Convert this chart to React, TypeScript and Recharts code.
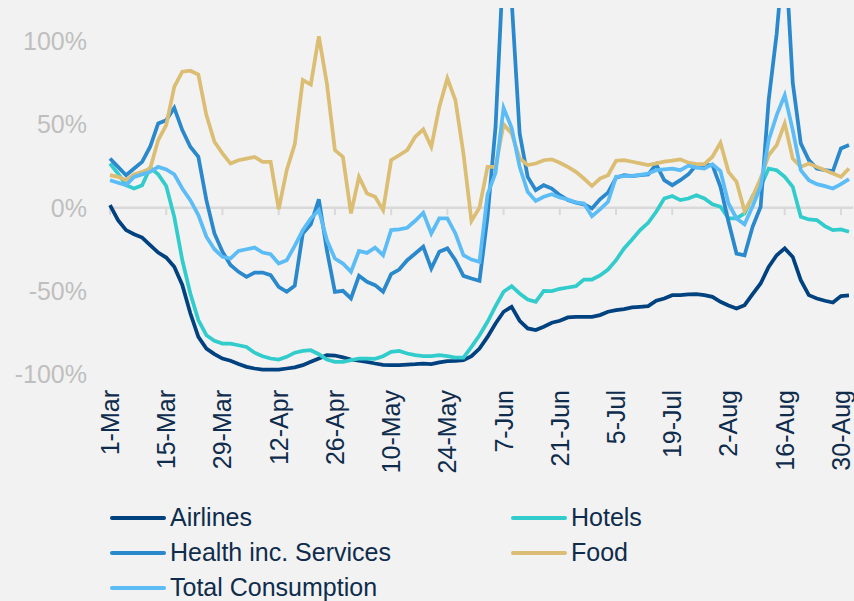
import { LineChart, Line, XAxis, YAxis, ReferenceLine } from 'recharts';

const FONT = 'Arial, "Liberation Sans", sans-serif';

// day index from 1-Mar, every 2nd day
const days = Array.from({ length: 93 }, (_, i) => i * 2);

const tickDays = [0, 14, 28, 42, 56, 70, 84, 98, 112, 126, 140, 154, 168, 182];
const tickLabels = [
  '1-Mar', '15-Mar', '29-Mar', '12-Apr', '26-Apr', '10-May', '24-May',
  '7-Jun', '21-Jun', '5-Jul', '19-Jul', '2-Aug', '16-Aug', '30-Aug',
];
const yTicks = [-100, -50, 0, 50, 100];

const airlines = [
  1.5, -7.5, -13.5, -16, -18, -22.5, -27, -30, -35.5, -46.5, -63.5, -77.7, -84.7, -88, -90.7, -92,
  -94, -95.7, -96.7, -97.3, -97.3, -97.3, -96.7, -96, -94.7, -92.7, -90.7, -88.7, -88.9, -90, -91.3,
  -92, -92.7, -93.7, -94.5, -94.7, -94.7, -94.3, -94.1, -93.7, -94.1, -93, -92.3, -92.1, -91.7,
  -89.3, -84.7, -77.7, -69.6, -62.6, -59.6, -68, -72.6, -73.6, -71.6, -69.2, -68, -66, -65.6, -65.6,
  -65.6, -64.6, -62.6, -61.6, -61, -60, -59.6, -59.2, -56, -54.6, -52.6, -52.6, -52.2, -52, -52.6,
  -53.6, -56.6, -58.8, -60.6, -58.6, -52, -45.6, -35.6, -28.6, -24.5, -29.6, -43.6, -52.6, -54.6,
  -56, -57, -53.2, -52.8,
];

const hotels = [
  26.5, 20.5, 13.5, 11.5, 13.5, 24, 20, 13, -5.5, -31.5, -51.6, -67.6, -76.7, -80, -81.7, -81.7,
  -82.7, -83.7, -87.2, -89.3, -90.7, -91.3, -89.7, -87.2, -86.1, -85.7, -88.1, -91.3, -92.7, -92.7,
  -91.7, -90.7, -90.7, -90.9, -89.3, -86.7, -86.1, -87.7, -88.7, -89.3, -89.3, -88.7, -89.3, -90.1,
  -90.1, -83.7, -76.7, -68.6, -59.2, -50.6, -47.2, -51.6, -55.2, -56.6, -50, -50.2, -48.8, -48,
  -47.2, -43.2, -43.2, -40.8, -37.2, -31.6, -24.5, -19.1, -13.5, -9.1, -2.5, 5.5, 7, 4.5, 5.5, 7.5,
  5.5, 2, 0.5, -6.5, -6.5, -3.5, 7, 12.5, 23.5, 22.5, 18.5, 12.5, -5.5, -7.1, -7.5, -11.1, -13.5,
  -13.1, -14.5,
];

const health = [
  29.5, 24.5, 19.5, 23.5, 27.5, 36.6, 50.6, 52.6, 60, 46.6, 36.6, 30.5, 4.5, -15.5, -26.5, -34.5,
  -38.6, -41.6, -39, -39, -40.6, -47.6, -50.6, -47, -15.5, -10, 5, -25.6, -50.6, -50, -54.6, -41,
  -44.6, -46.6, -50.6, -40, -37.2, -31.6, -27.6, -23.5, -36.6, -26.5, -24.5, -31.6, -41, -42.6, -44,
  -5.5, 48.6, 150, 125, 44.6, 18.5, 10.5, 13.5, 11.5, 7.5, 4.5, 3, 2, -0.5, 5, 9, 18, 19.5, 19,
  19.5, 20, 26, 16.5, 13.5, 16.5, 20, 25.6, 25.6, 25.6, 12.5, -8.5, -27.6, -28.6, -11.5, 0.5, 64.6,
  104.7, 160, 75, 38.6, 28.6, 23.5, 22.5, 22, 35.6, 37.6,
];

const food = [
  19.5, 18.5, 16.5, 20, 21.5, 23.5, 40.6, 49.6, 72.6, 81.7, 82.3, 80, 55.6, 39.6, 32.6, 26.5, 28.5,
  29.5, 30.5, 27.5, 27.5, -1, 22.5, 38, 76.7, 74, 103, 74.6, 34.6, 30.5, -3.5, 18.5, 8.5, 6.5, -1.5,
  28.5, 31.5, 34.6, 42.6, 47, 36.6, 60.6, 77.7, 64.6, 32.6, -8, 0, 24.5, 24.5, 50, 44.6, 29.6, 25.6,
  26.5, 28.5, 29, 27, 24.5, 21.5, 17.5, 13, 17.5, 19.5, 28.2, 28.5, 27.6, 26.6, 25.6, 26.6, 27.7,
  28.2, 29, 27, 26.2, 26.2, 30.6, 39, 21.5, 15.5, -2, 6.5, 17.5, 31.5, 37.6, 50.6, 29.5, 24.5, 26.5,
  24.5, 22.5, 20.5, 18.5, 23.5,
];

const total = [
  16.5, 15, 13.5, 18.5, 20, 21.5, 24.5, 23, 20, 11.5, 4.5, -4.5, -17.5, -25, -29.6, -30.6, -26, -25,
  -24, -27, -28, -33.6, -31.6, -23, -13.5, -6.5, -1.5, -19.5, -30.6, -33.6, -38.6, -26, -27.2, -24,
  -28.6, -13.5, -13.1, -12.1, -7.9, -3.1, -15.5, -6.5, -6.5, -15.5, -28.6, -31.2, -32.6, 8, 21, 60,
  48, 24.5, 9.5, 4, 6.5, 8.1, 6.1, 4.9, 3.1, 2.5, -5.1, -1.1, 3.5, 18.5, 18.9, 19.1, 19.7, 20.5,
  22.5, 23, 23.5, 22.5, 25.2, 24.1, 23.5, 26.1, 22, 2.5, -6.5, -10, 0.9, 12.5, 40.6, 55.6, 67.6,
  46.6, 22.5, 16.5, 14.1, 12.9, 11.5, 14.1, 17.1,
];

const series = [
  { key: 'airlines', name: 'Airlines', color: '#00427f', values: airlines },
  { key: 'hotels', name: 'Hotels', color: '#33cccc', values: hotels },
  { key: 'health', name: 'Health inc. Services', color: '#2a88cc', values: health },
  { key: 'food', name: 'Food', color: '#dbbe74', values: food },
  { key: 'total', name: 'Total Consumption', color: '#5bbcf6', values: total },
];

const rows = days.map((day, i) => {
  const row: Record<string, number> = { day };
  series.forEach((s) => {
    row[s.key] = s.values[i];
  });
  return row;
});

const DateTick = (props: any) => {
  const { x, y, payload } = props;
  const label = tickLabels[tickDays.indexOf(payload.value)];
  return (
    <text
      x={x}
      y={y}
      transform={`rotate(-90 ${x} ${y})`}
      textAnchor="end"
      dy="0.36em"
      fill="#0f2c4c"
      fontSize={25}
      fontFamily={FONT}
    >
      {label}
    </text>
  );
};

export default function App() {
  return (
    <div
      style={{
        position: 'fixed',
        inset: 0,
        background: '#f2f2f2',
        overflow: 'hidden',
        fontFamily: FONT,
      }}
    >
      <LineChart
        width={854}
        height={500}
        data={rows}
        margin={{ top: 8, right: 1, left: 0, bottom: 0 }}
      >
        <XAxis
          type="number"
          dataKey="day"
          domain={[0, 185]}
          ticks={tickDays}
          interval={0}
          axisLine={false}
          tickLine={false}
          tickSize={0}
          tickMargin={16}
          height={126}
          tick={<DateTick />}
        />
        <YAxis
          domain={[-100, 120]}
          ticks={yTicks}
          allowDataOverflow
          width={110}
          axisLine={false}
          tickLine={false}
          tickSize={0}
          tickMargin={23}
          tick={{ fill: '#bfbfbf', fontSize: 25, fontFamily: FONT }}
          tickFormatter={(v: number) => `${v}%`}
        />
        <ReferenceLine y={0} stroke="#d9d9d9" strokeWidth={2.5} />
        {tickDays.map((d) => (
          <ReferenceLine
            key={d}
            segment={[
              { x: d, y: 0 },
              { x: d, y: -4.5 },
            ]}
            stroke="#d9d9d9"
            strokeWidth={2}
          />
        ))}
        {series.map((s) => (
          <Line
            key={s.key}
            type="linear"
            dataKey={s.key}
            name={s.name}
            stroke={s.color}
            strokeWidth={3.75}
            dot={false}
            isAnimationActive={false}
          />
        ))}
      </LineChart>
      <div style={{ position: 'absolute', left: 110, top: 500, width: 744 }}>
        {[0, 2, 4].map((r) => (
          <div key={r} style={{ display: 'flex', height: 35, alignItems: 'center' }}>
            {series.slice(r, r + 2).map((s) => (
              <div
                key={s.key}
                style={{ display: 'flex', alignItems: 'center', width: 401, flexShrink: 0 }}
              >
                <span
                  style={{
                    display: 'inline-block',
                    width: 56,
                    height: 4,
                    borderRadius: 2,
                    background: s.color,
                    marginRight: 4,
                  }}
                />
                <span style={{ fontSize: 25, color: '#0f2c4c' }}>{s.name}</span>
              </div>
            ))}
          </div>
        ))}
      </div>
    </div>
  );
}
